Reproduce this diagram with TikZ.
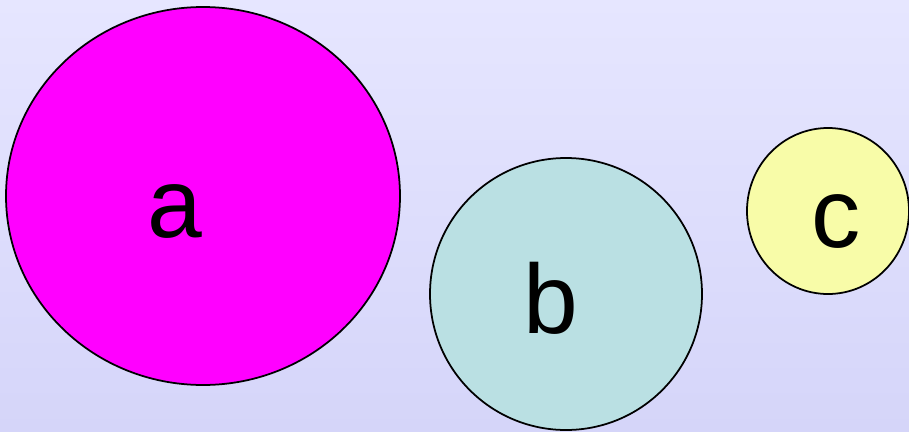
\documentclass[tikz,border=0pt]{standalone}
\usepackage{fontspec}
\setmainfont{Liberation Sans}
\usepackage{tikz}
\usetikzlibrary{shapes.geometric,positioning}

\definecolor{fond haut}{HTML}{E6E6FF}
\definecolor{fond bas}{HTML}{D5D5F9}
\definecolor{rose}{HTML}{FF00FF}
\definecolor{bleu}{HTML}{BAE0E3}
\definecolor{jaune}{HTML}{F8FCA8}

\begin{document}
\begin{tikzpicture}[
    blob/.style={
        ellipse,
        draw,
        line width=1pt,
        inner sep=0pt
    },
    lettre/.style={
        font=\fontsize{56}{60}\selectfont,
        anchor=base,
        inner sep=0pt
    }
]

% Background
\useasboundingbox (0,0) rectangle (18.18,8.62);
\shade[top color=fond haut, bottom color=fond bas] (0,0) rectangle (18.18,8.62);

% Sets
\node[blob, fill=rose, minimum width=7.88cm, minimum height=7.56cm] (a) at (4.06,4.70) {};
\node[blob, fill=bleu, minimum width=5.44cm, minimum height=5.44cm] (b) at (11.32,2.74) {};
\node[blob, fill=jaune, minimum width=3.24cm, minimum height=3.32cm] (c) at (16.56,4.40) {};

% Labels
\node[lettre] (la) at (3.50,3.88) {a};
\node[lettre] (lb) at (11.02,1.96) {b};
\node[lettre] (lc) at (16.72,3.68) {c};

\end{tikzpicture}
\end{document}
